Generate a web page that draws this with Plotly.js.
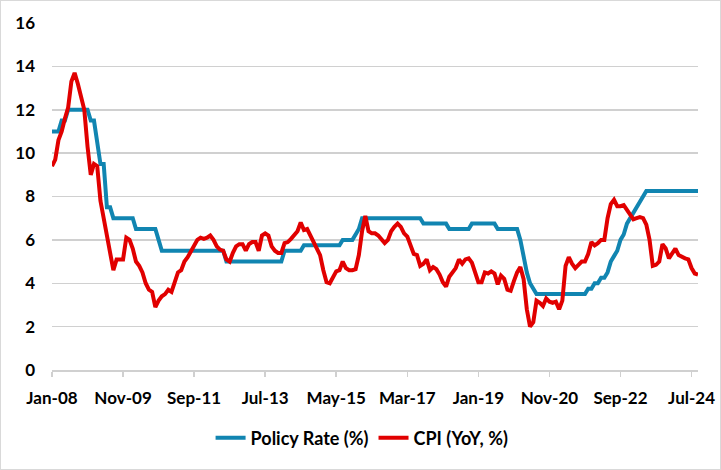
<!DOCTYPE html>
<html>
<head>
<meta charset="utf-8">
<script src="https://cdn.plot.ly/plotly-3.0.1.min.js"></script>
<style>
  html, body { margin: 0; padding: 0; background: #fff; }
  #chart { width: 719px; height: 468px; border: 1px solid #d9d9d9; }
</style>
</head>
<body>
<div id="chart"></div>
<script>
// monthly, Jan-08 .. Sep-24
const startYear = 2008
const nMonths = 201
const monthNames = ['Jan', 'Feb', 'Mar', 'Apr', 'May', 'Jun', 'Jul', 'Aug', 'Sep', 'Oct', 'Nov', 'Dec']

const tickLabels = ['Jan-08', 'Nov-09', 'Sep-11', 'Jul-13', 'May-15', 'Mar-17', 'Jan-19', 'Nov-20', 'Sep-22', 'Jul-24']

const policyRate = [
  11, 11, 11, 11.5, 11.5, 12, 12, 12, 12, 12,
  12, 12, 11.5, 11.5, 10.5, 9.5, 9.5, 7.5, 7.5, 7,
  7, 7, 7, 7, 7, 7, 6.5, 6.5, 6.5, 6.5,
  6.5, 6.5, 6.5, 6, 5.5, 5.5, 5.5, 5.5, 5.5, 5.5,
  5.5, 5.5, 5.5, 5.5, 5.5, 5.5, 5.5, 5.5, 5.5, 5.5,
  5.5, 5.5, 5.5, 5.5, 5, 5, 5, 5, 5, 5,
  5, 5, 5, 5, 5, 5, 5, 5, 5, 5,
  5, 5, 5.5, 5.5, 5.5, 5.5, 5.5, 5.5, 5.75, 5.75,
  5.75, 5.75, 5.75, 5.75, 5.75, 5.75, 5.75, 5.75, 5.75, 5.75,
  6, 6, 6, 6, 6.25, 6.5, 7, 7, 7, 7,
  7, 7, 7, 7, 7, 7, 7, 7, 7, 7,
  7, 7, 7, 7, 7, 6.75, 6.75, 6.75, 6.75, 6.75,
  6.75, 6.75, 6.75, 6.5, 6.5, 6.5, 6.5, 6.5, 6.5, 6.5,
  6.75, 6.75, 6.75, 6.75, 6.75, 6.75, 6.75, 6.75, 6.5, 6.5,
  6.5, 6.5, 6.5, 6.5, 6.5, 6, 5.25, 4.5, 4, 3.75,
  3.5, 3.5, 3.5, 3.5, 3.5, 3.5, 3.5, 3.5, 3.5, 3.5,
  3.5, 3.5, 3.5, 3.5, 3.5, 3.5, 3.75, 3.75, 4, 4,
  4.25, 4.25, 4.5, 5, 5.25, 5.5, 6, 6.25, 6.75, 7,
  7.25, 7.5, 7.75, 8, 8.25, 8.25, 8.25, 8.25, 8.25, 8.25,
  8.25, 8.25, 8.25, 8.25, 8.25, 8.25, 8.25, 8.25, 8.25, 8.25,
  8.25
]

const cpi = [
  9.4, 9.7, 10.6, 11.0, 11.6, 12.1, 13.3, 13.7, 13.2, 12.5,
  12.0, 10.3, 9.0, 9.5, 9.4, 7.8, 7.0, 6.3, 5.4, 4.6,
  5.1, 5.1, 5.1, 6.1, 6.0, 5.6, 5.0, 4.8, 4.5, 4.0,
  3.7, 3.6, 2.9, 3.2, 3.4, 3.5, 3.7, 3.6, 4.1, 4.5,
  4.6, 5.0, 5.2, 5.5, 5.8, 6.0, 6.1, 6.05, 6.1, 6.2,
  6.0, 5.7, 5.55, 5.5, 5.1, 5.0, 5.4, 5.7, 5.8, 5.8,
  5.5, 5.8, 5.9, 5.9, 5.5, 6.2, 6.3, 6.2, 5.7, 5.5,
  5.4, 5.4, 5.85, 5.9, 6.05, 6.25, 6.4, 6.8, 6.45, 6.5,
  6.2, 5.9, 5.7, 5.3, 4.6, 4.05, 4.0, 4.3, 4.55, 4.6,
  5.0, 4.7, 4.6, 4.6, 4.65, 5.3, 6.4, 7.1, 6.4, 6.3,
  6.3, 6.2, 6.0, 5.85, 6.0, 6.4, 6.6, 6.75, 6.6, 6.3,
  6.15, 5.8, 5.35, 5.3, 4.8, 4.9, 5.1, 4.6, 4.75, 4.65,
  4.4, 4.05, 3.85, 4.3, 4.5, 4.7, 5.1, 4.9, 5.1, 5.15,
  4.95, 4.5, 4.05, 4.05, 4.5, 4.45, 4.55, 4.45, 3.95, 4.35,
  4.2, 3.7, 3.65, 4.1, 4.5, 4.75, 4.2, 2.8, 2.0, 2.2,
  3.2, 3.1, 2.95, 3.3, 3.15, 3.1, 3.15, 2.8, 3.2, 4.8,
  5.2, 4.9, 4.7, 4.85, 5.0, 5.0, 5.35, 5.9, 5.75, 5.85,
  6.0, 6.0, 7.0, 7.65, 7.85, 7.55, 7.55, 7.6, 7.4, 7.15,
  6.95, 7.0, 7.05, 7.0, 6.7, 6.0, 4.8, 4.85, 5.0, 5.8,
  5.6, 5.15, 5.35, 5.6, 5.3, 5.2, 5.15, 5.1, 4.7, 4.45,
  4.4
]

let months = []
for (let i = 0; i < nMonths; i++) {
  const yy = String((startYear + Math.floor(i / 12)) % 100).padStart(2, '0')
  months.push(`${monthNames[i % 12]}-${yy}`)
}

const fontFamily = 'Lato, "Open Sans", "DejaVu Sans", sans-serif'
const tickFont = { family: fontFamily, size: 17, color: '#000000', weight: 'bold' }

const traces = [
  {
    x: months,
    y: policyRate,
    name: 'Policy Rate (%)',
    type: 'scatter',
    mode: 'lines',
    line: { color: '#1185b1', width: 4, shape: 'linear' },
  },
  {
    x: months,
    y: cpi,
    name: 'CPI (YoY, %)',
    type: 'scatter',
    mode: 'lines',
    line: { color: '#e10000', width: 4, shape: 'linear' },
  },
]

const layout = {
  width: 719,
  height: 468,
  margin: { l: 51, r: 22, t: 22, b: 99 },
  paper_bgcolor: '#ffffff',
  plot_bgcolor: '#ffffff',
  font: tickFont,
  showlegend: true,
  legend: {
    orientation: 'h',
    x: 0.48,
    xanchor: 'center',
    y: -0.196,
    yanchor: 'middle',
    font: { family: fontFamily, size: 18, color: '#000000', weight: 'bold' },
    itemwidth: 30,
  },
  xaxis: {
    type: 'category',
    range: [0, nMonths - 1],
    tickmode: 'array',
    tickvals: tickLabels,
    ticktext: tickLabels,
    tickangle: 0,
    ticks: 'outside',
    ticklen: 5,
    tickcolor: '#d0d0d0',
    tickwidth: 1.5,
    showline: true,
    linecolor: '#d0d0d0',
    linewidth: 1.5,
    showgrid: false,
    zeroline: false,
    ticklabelstandoff: 7,
    tickfont: tickFont,
  },
  yaxis: {
    range: [0, 16],
    dtick: 2,
    tick0: 0,
    showgrid: true,
    gridcolor: '#d0d0d0',
    gridwidth: 1.5,
    zeroline: false,
    showline: false,
    ticks: '',
    ticklabelstandoff: 16,
    tickfont: tickFont,
  },
}

Plotly.newPlot('chart', traces, layout, { displayModeBar: false, staticPlot: true })
</script>
</body>
</html>
